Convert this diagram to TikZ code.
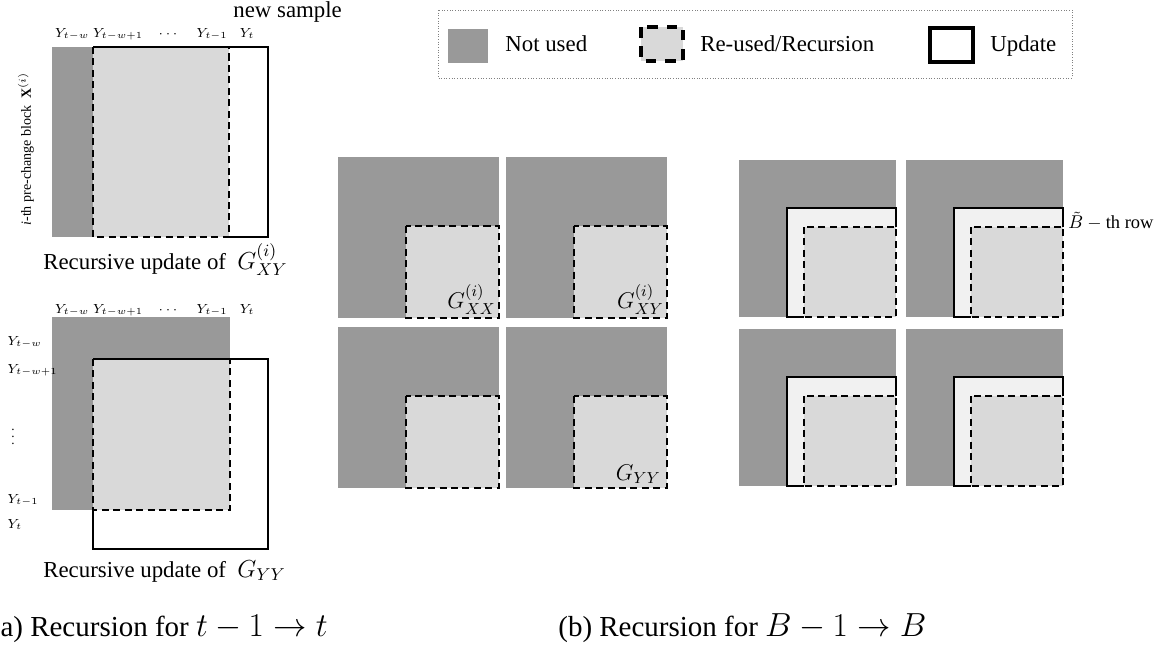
\documentclass[tikz,border=0pt]{standalone}
\usepackage{fix-cm}
\usepackage{fontspec}
\setmainfont{LiberationSerif}[Extension=.ttf,UprightFont=*-Regular,BoldFont=*-Bold,ItalicFont=*-Italic,BoldItalicFont=*-BoldItalic]
\usetikzlibrary{positioning}
\definecolor{NotUsed}{HTML}{999999}
\definecolor{ReUsed}{HTML}{D9D9D9}
\definecolor{UpdFill}{HTML}{F1F1F1}

\begin{document}
\begin{tikzpicture}[x=0.02cm,y=-0.02cm,font=\rmfamily,
  nu/.style={fill=NotUsed},
  ru/.style={draw=black,fill=ReUsed,line width=1.1pt,dash pattern=on 4pt off 2.5pt},
  up/.style={draw=black,line width=1.1pt},
  lbl/.style={inner sep=0pt,font=\fontsize{7.5}{9}\selectfont},
  txt/.style={inner sep=0pt,font=\fontsize{13}{15}\selectfont},
  subcap/.style={inner sep=0pt,anchor=base west,font=\fontsize{16.5}{19}\selectfont}]
  \useasboundingbox (0,0) rectangle (1167,650);

  % (a) recursion of G_XY
  \fill[nu] (52,47) rectangle (93,237);
  \draw[ru] (93,47) rectangle (229,237);
  \draw[up] (229,237) -- (268,237) -- (268,47) -- (93,47);
  \foreach \x/\t [count=\i] in {72/Y_{t-w},118/Y_{t-w+1},168/\cdots,212/Y_{t-1},247/Y_t}
    \node[lbl,anchor=base] (ca\i) at (\x,37) {$\t$};
  \node[txt,anchor=base west] (newS) at (233,17) {new sample};
  \node[rotate=90,inner sep=0pt,font=\fontsize{8}{9}\selectfont] (blk) at (26,149) {\textit{i}-th pre-change block\ \ $\mathbf{X}^{(i)}$};
  \node[txt,anchor=base west] (capXY) at (43,269) {Recursive update of\ \ {\fontsize{14}{16}\selectfont$G^{(i)}_{XY}$}};

  % (a) recursion of G_YY
  \fill[nu] (52,317) rectangle (230,510);
  \draw[ru] (93,359) rectangle (230,510);
  \draw[up] (93,510) -- (93,549) -- (268,549) -- (268,359) -- (93,359);
  \foreach \x/\t [count=\i] in {72/Y_{t-w},118/Y_{t-w+1},168/\cdots,212/Y_{t-1},247/Y_t}
    \node[lbl,anchor=base] (cb\i) at (\x,313) {$\t$};
  \foreach \y/\t [count=\i] in {345/Y_{t-w},373/Y_{t-w+1},503/Y_{t-1},528/Y_t}
    \node[lbl,anchor=base west] (r\i) at (7,\y) {$\t$};
  \node[lbl] (rdots) at (13,432) {$\vdots$};
  \node[txt,anchor=base west] (capYY) at (43,577) {Recursive update of\ \ {\fontsize{14}{16}\selectfont$G_{YY}$}};

  % legend
  \draw[densely dotted,gray,line width=0.5pt] (438,10) rectangle (1072,78);
  \fill[nu] (448,29) rectangle (488,63);
  \node[txt,anchor=base west] (lNU) at (505,51) {Not used};
  \draw[ru,line width=1.8pt,dash pattern=on 6pt off 5pt] (641,27) rectangle (683,61);
  \node[txt,anchor=base west] (lRU) at (700,51) {Re-used/Recursion};
  \draw[up,line width=1.8pt] (930,28) rectangle (973,62);
  \node[txt,anchor=base west] (lUP) at (990,51) {Update};

  % (b) blocks
  \foreach \x in {338,506} \foreach \y in {157,327} {
    \fill[nu] (\x,\y) rectangle ++(161,161);
    \draw[ru] (\x+68,\y+69) rectangle (\x+161,\y+161);
  }
  \node[inner sep=0pt,anchor=south east,font=\fontsize{13}{15}\selectfont] (gxx) at (496,315) {$G^{(i)}_{XX}$};
  \node[inner sep=0pt,anchor=south east,font=\fontsize{13}{15}\selectfont] (gxy) at (664,315) {$G^{(i)}_{XY}$};
  \node[inner sep=0pt,anchor=south east,font=\fontsize{13}{15}\selectfont] (gyy) at (661,484) {$G_{YY}$};

  % (b) blocks with new row
  \foreach \x in {739,906} \foreach \y in {160,329} {
    \fill[nu] (\x,\y) rectangle ++(157,157);
    \fill[UpdFill] (\x+48,\y+48) rectangle (\x+157,\y+157);
    \draw[ru] (\x+65,\y+67) rectangle (\x+157,\y+157);
    \draw[up] (\x+65,\y+157) -- (\x+48,\y+157) -- (\x+48,\y+48) -- (\x+157,\y+48) -- (\x+157,\y+67);
  }
  \node[anchor=west,inner sep=0pt,font=\fontsize{10.5}{12}\selectfont] (brow) at (1068,221) {$\tilde{B}-\mathrm{th\ row}$};

  \node[subcap] (capA) at (-9.5,636) {(a) Recursion for {\fontsize{19}{22}\selectfont$t-1\to t$}};
  \node[subcap] (capB) at (558,636) {(b) Recursion for {\fontsize{19}{22}\selectfont$B-1\to B$}};
\end{tikzpicture}
\end{document}
